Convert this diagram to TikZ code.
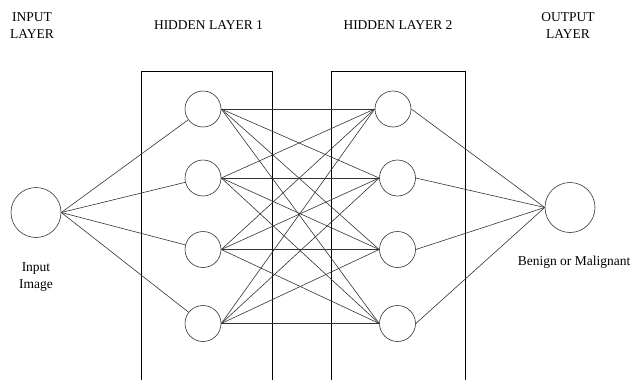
\documentclass[tikz,border=0pt]{standalone}
\usepackage{fontspec}
\setmainfont{Liberation Serif}
\begin{document}
\begin{tikzpicture}[x=1pt, y=-1pt, line width=0.6pt,
    neuron/.style={draw=black!80, circle, inner sep=0pt, minimum size=36pt},
    bigneuron/.style={draw=black!80, circle, inner sep=0pt, minimum size=50pt},
    link/.style={draw=black!80, line width=0.6pt},
    label/.style={align=center, font=\fontsize{13.5}{17}\selectfont}]

        \useasboundingbox (0,0) rectangle (632,380);

        % Boxes round the two hidden layers (open at the bottom)
        \draw[line width=0.8pt] (141,380) |- (272.5,71) -- (272.5,380);
        \draw[line width=0.8pt] (331,380) |- (465.5,71) -- (465.5,380);

        % Layer titles
        \node[label] (T1) at (32,26) {INPUT\\LAYER};
        \node[label] (T2) at (208.5,25.5) {HIDDEN LAYER 1};
        \node[label] (T3) at (398,25.5) {HIDDEN LAYER 2};
        \node[label] (T4) at (568,26) {OUTPUT\\LAYER};

        % Input node
        \node[bigneuron] (X1) at (36,212.5) {};
        \node[label] (L1) at (36,277.5) {Input\\Image};

        % Hidden layer 1
        \node[neuron] (A1) at (203,109) {};
        \node[neuron] (A2) at (203,178) {};
        \node[neuron] (A3) at (203,249.5) {};
        \node[neuron] (A4) at (203,323.5) {};

        % Hidden layer 2
        \node[neuron] (B1) at (393,109) {};
        \node[neuron] (B2) at (397.5,178) {};
        \node[neuron] (B3) at (397.5,249.5) {};
        \node[neuron] (B4) at (397.5,323.5) {};

        % Output node
        \node[bigneuron] (Y1) at (570,207.5) {};
        \node[label] (L2) at (574,262) {Benign or Malignant};

        % Input to hidden layer 1
        \draw[link] (X1.east) -- (A1);
        \draw[link] (X1.east) -- (A2);
        \draw[link] (X1.east) -- (A3);
        \draw[link] (X1.east) -- (A4);

        % Hidden layer 1 to hidden layer 2
        \draw[link] (A1.east) -- (B1.west);
        \draw[link] (A1.east) -- (B2.west);
        \draw[link] (A1.east) -- (B3.west);
        \draw[link] (A1.east) -- (B4.west);
        \draw[link] (A2.east) -- (B1.west);
        \draw[link] (A2.east) -- (B2.west);
        \draw[link] (A2.east) -- (B3.west);
        \draw[link] (A2.east) -- (B4.west);
        \draw[link] (A3.east) -- (B1.west);
        \draw[link] (A3.east) -- (B2.west);
        \draw[link] (A3.east) -- (B3.west);
        \draw[link] (A3.east) -- (B4.west);
        \draw[link] (A4.east) -- (B1.west);
        \draw[link] (A4.east) -- (B2.west);
        \draw[link] (A4.east) -- (B3.west);
        \draw[link] (A4.east) -- (B4.west);

        % Hidden layer 2 to output
        \draw[link] (B1.east) -- (Y1.west);
        \draw[link] (B2.east) -- (Y1.west);
        \draw[link] (B3.east) -- (Y1.west);
        \draw[link] (B4.east) -- (Y1.west);

    \end{tikzpicture}
\end{document}
